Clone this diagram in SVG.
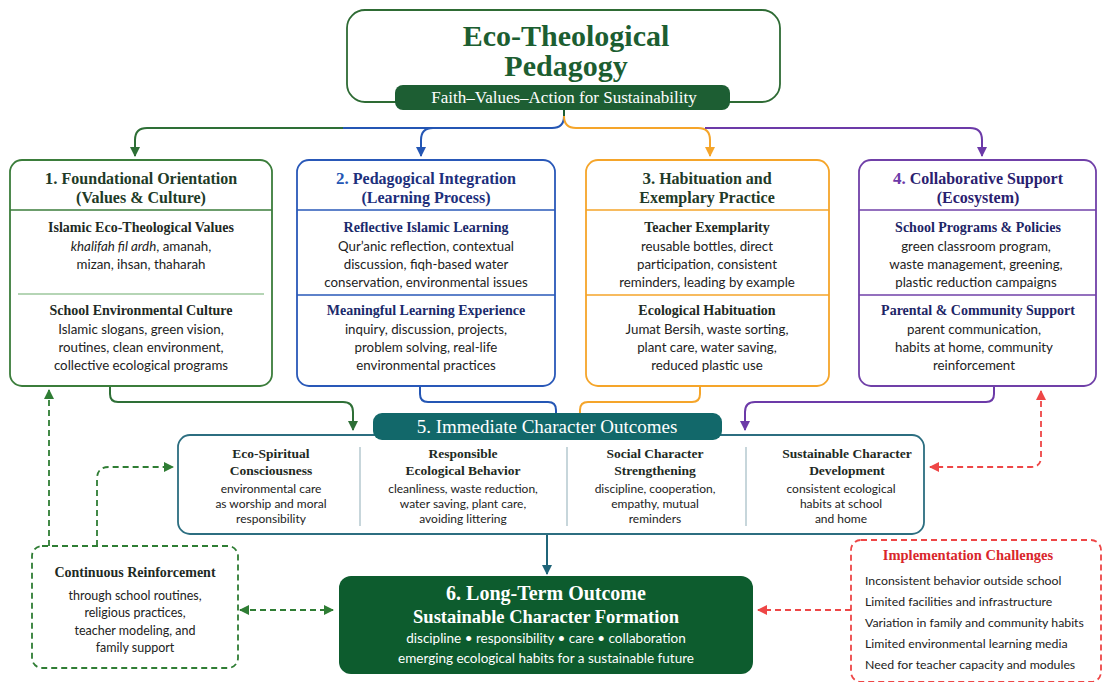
<svg xmlns="http://www.w3.org/2000/svg" width="1104" height="682" viewBox="0 0 1104 682">
<defs>
<style>
.serif{font-family:"Liberation Serif","DejaVu Serif",serif;}
.sans{font-family:Lato,"Open Sans","Liberation Sans",sans-serif;}
.hdr{font-family:"Liberation Serif","DejaVu Serif",serif;font-weight:700;font-size:16px;text-anchor:middle;}
.sec{font-family:"Liberation Serif","DejaVu Serif",serif;font-weight:700;font-size:14px;text-anchor:middle;}
.body{font-family:Lato,"Open Sans","Liberation Sans",sans-serif;font-size:13.3px;fill:#222;text-anchor:middle;}
.ctitle{font-family:"Liberation Serif","DejaVu Serif",serif;font-weight:700;font-size:13.5px;fill:#1e2a24;text-anchor:middle;}
.cbody{font-family:Lato,"Open Sans","Liberation Sans",sans-serif;font-size:12px;fill:#222;text-anchor:middle;}
.box{fill:#fff;stroke-width:1.8;}
.ln{fill:none;stroke-width:2;}
.dash{fill:none;stroke-width:1.8;stroke-dasharray:6 4;}
</style>
<marker id="aGreen" viewBox="0 0 10 10" refX="9" refY="5" markerWidth="10" markerHeight="10" markerUnits="userSpaceOnUse" orient="auto"><path d="M0,0 L10,5 L0,10 z" fill="#2e6f36"/></marker>
<marker id="aBlue" viewBox="0 0 10 10" refX="9" refY="5" markerWidth="10" markerHeight="10" markerUnits="userSpaceOnUse" orient="auto"><path d="M0,0 L10,5 L0,10 z" fill="#2456b4"/></marker>
<marker id="aOrange" viewBox="0 0 10 10" refX="9" refY="5" markerWidth="10" markerHeight="10" markerUnits="userSpaceOnUse" orient="auto"><path d="M0,0 L10,5 L0,10 z" fill="#f5a52a"/></marker>
<marker id="aPurple" viewBox="0 0 10 10" refX="9" refY="5" markerWidth="10" markerHeight="10" markerUnits="userSpaceOnUse" orient="auto"><path d="M0,0 L10,5 L0,10 z" fill="#6c3aa8"/></marker>
<marker id="aTeal" viewBox="0 0 10 10" refX="9" refY="5" markerWidth="10" markerHeight="10" markerUnits="userSpaceOnUse" orient="auto"><path d="M0,0 L10,5 L0,10 z" fill="#1f6478"/></marker>
<marker id="aRed" viewBox="0 0 10 10" refX="9" refY="5" markerWidth="10" markerHeight="10" markerUnits="userSpaceOnUse" orient="auto-start-reverse"><path d="M0,0 L10,5 L0,10 z" fill="#ee4646"/></marker>
<marker id="aGreenD" viewBox="0 0 10 10" refX="9" refY="5" markerWidth="10" markerHeight="10" markerUnits="userSpaceOnUse" orient="auto-start-reverse"><path d="M0,0 L10,5 L0,10 z" fill="#2f7d34"/></marker>
</defs>
<rect width="1104" height="682" fill="#fff"/>

<g id="connectors">
  <path class="ln" stroke="#1d5e33" d="M564,110 V118"/>
  <path class="ln" stroke="#2e6f36" d="M343,128 H147 Q135,128 135,140 V156" marker-end="url(#aGreen)"/>
  <path class="ln" stroke="#2456b4" d="M564,116 Q564,128 552,128 H343"/>
  <path class="ln" stroke="#2456b4" d="M433,128 Q421,128 421,140 V156" marker-end="url(#aBlue)"/>
  <path class="ln" stroke="#f5a52a" d="M564,116 Q564,128 576,128 H698 Q710,128 710,140 V156" marker-end="url(#aOrange)"/>
  <path class="ln" stroke="#6c3aa8" d="M705,128 H970 Q982,128 982,140 V156" marker-end="url(#aPurple)"/>
  <path class="ln" stroke="#2e6f36" d="M110,386 V394 Q110,402 118,402 H343 Q353,402 353,412 V430" marker-end="url(#aGreen)"/>
  <path class="ln" stroke="#2456b4" d="M420,386 V394 Q420,402 428,402 H548 Q556,402 556,410 V414"/>
  <path class="ln" stroke="#f5a52a" d="M700,386 V394 Q700,402 692,402 H588 Q580,402 580,410 V414"/>
  <path class="ln" stroke="#6c3aa8" d="M994,386 V394 Q994,402 986,402 H755 Q745,402 745,412 V430" marker-end="url(#aPurple)"/>
  <path class="ln" stroke="#1f6478" d="M547,534 V574" marker-end="url(#aTeal)"/>
  <path class="dash" stroke="#ee4646" d="M1041,391 V457 Q1041,467 1031,467 H930" marker-start="url(#aRed)" marker-end="url(#aRed)"/>
  <path class="dash" stroke="#ee4646" d="M851,610 H758" marker-end="url(#aRed)"/>
  <path class="dash" stroke="#2f7d34" d="M49,546 V390" marker-end="url(#aGreenD)"/>
  <path class="dash" stroke="#2f7d34" d="M97,546 V479 Q97,467 109,467 H173" marker-end="url(#aGreenD)"/>
  <path class="dash" stroke="#2f7d34" d="M240,610 H333" marker-start="url(#aGreenD)" marker-end="url(#aGreenD)"/>
</g>

<g id="title">
  <rect x="347" y="10" width="433" height="92" rx="18" fill="#fff" stroke="#2e6b34" stroke-width="1.8"/>
  <text class="serif" x="566" y="46" font-size="30" font-weight="700" fill="#1c5e31" text-anchor="middle">Eco-Theological</text>
  <text class="serif" x="566" y="76" font-size="30" font-weight="700" fill="#1c5e31" text-anchor="middle">Pedagogy</text>
  <rect x="395" y="85" width="335" height="25" rx="8" fill="#1d5e33"/>
  <text class="serif" x="564" y="103" font-size="17" fill="#fff" text-anchor="middle">Faith–Values–Action for Sustainability</text>
</g>

<g id="box1">
  <rect class="box" x="10" y="160" width="262" height="226" rx="12" stroke="#3b7d3b"/>
  <text class="hdr" x="141" y="184" fill="#1e3b27"><tspan font-size="17">1.</tspan> Foundational Orientation</text>
  <text class="hdr" x="141" y="203" fill="#1e3b27">(Values &amp; Culture)</text>
  <line x1="10" y1="210" x2="272" y2="210" stroke="#3b7d3b" stroke-width="1.5"/>
  <text class="sec" x="141" y="232" fill="#1e2a24">Islamic Eco-Theological Values</text>
  <text class="body" x="141" y="251"><tspan font-style="italic">khalifah fil ardh</tspan>, amanah,</text>
  <text class="body" x="141" y="269">mizan, ihsan, thaharah</text>
  <line x1="18" y1="294" x2="264" y2="294" stroke="#9cc79c" stroke-width="1.5"/>
  <text class="sec" x="141" y="315" fill="#1e2a24">School Environmental Culture</text>
  <text class="body" x="141" y="334">Islamic slogans, green vision,</text>
  <text class="body" x="141" y="352">routines, clean environment,</text>
  <text class="body" x="141" y="370">collective ecological programs</text>
</g>

<g id="box2">
  <rect class="box" x="297" y="160" width="258" height="226" rx="12" stroke="#2958b8"/>
  <text class="hdr" x="426" y="184" fill="#1d2f7c"><tspan fill="#2456b4" font-size="17">2.</tspan> Pedagogical Integration</text>
  <text class="hdr" x="426" y="203" fill="#1d2f7c">(Learning Process)</text>
  <line x1="297" y1="210" x2="555" y2="210" stroke="#2958b8" stroke-width="1.5"/>
  <text class="sec" x="426" y="232" fill="#1a2a6c">Reflective Islamic Learning</text>
  <text class="body" x="426" y="251">Qur’anic reflection, contextual</text>
  <text class="body" x="426" y="269">discussion, fiqh-based water</text>
  <text class="body" x="426" y="287">conservation, environmental issues</text>
  <line x1="297" y1="295" x2="555" y2="295" stroke="#2958b8" stroke-width="1.5"/>
  <text class="sec" x="426" y="315" fill="#1a2a6c">Meaningful Learning Experience</text>
  <text class="body" x="426" y="334">inquiry, discussion, projects,</text>
  <text class="body" x="426" y="352">problem solving, real-life</text>
  <text class="body" x="426" y="370">environmental practices</text>
</g>

<g id="box3">
  <rect class="box" x="586" y="160" width="243" height="226" rx="12" stroke="#f5a52a"/>
  <text class="hdr" x="707" y="184" fill="#1f3a28"><tspan font-size="17">3.</tspan> Habituation and</text>
  <text class="hdr" x="707" y="203" fill="#1f3a28">Exemplary Practice</text>
  <line x1="586" y1="210" x2="829" y2="210" stroke="#f5a52a" stroke-width="1.5"/>
  <text class="sec" x="707" y="232" fill="#1e2a24">Teacher Exemplarity</text>
  <text class="body" x="707" y="251">reusable bottles, direct</text>
  <text class="body" x="707" y="269">participation, consistent</text>
  <text class="body" x="707" y="287">reminders, leading by example</text>
  <line x1="586" y1="295" x2="829" y2="295" stroke="#f5a52a" stroke-width="1.5"/>
  <text class="sec" x="707" y="315" fill="#1e2a24">Ecological Habituation</text>
  <text class="body" x="707" y="334">Jumat Bersih, waste sorting,</text>
  <text class="body" x="707" y="352">plant care, water saving,</text>
  <text class="body" x="707" y="370">reduced plastic use</text>
</g>

<g id="box4">
  <rect class="box" x="859" y="160" width="237" height="226" rx="12" stroke="#7040a8"/>
  <text class="hdr" x="978" y="184" fill="#2a216f"><tspan fill="#6c3aa8" font-size="17">4.</tspan> Collaborative Support</text>
  <text class="hdr" x="978" y="203" fill="#2a216f">(Ecosystem)</text>
  <line x1="859" y1="210" x2="1096" y2="210" stroke="#7040a8" stroke-width="1.5"/>
  <text class="sec" x="978" y="232" fill="#1d2566">School Programs &amp; Policies</text>
  <text class="body" x="976" y="251">green classroom program,</text>
  <text class="body" x="976" y="269">waste management, greening,</text>
  <text class="body" x="976" y="287">plastic reduction campaigns</text>
  <line x1="859" y1="295" x2="1096" y2="295" stroke="#7040a8" stroke-width="1.5"/>
  <text class="sec" x="978" y="315" fill="#1d2566">Parental &amp; Community Support</text>
  <text class="body" x="974" y="334">parent communication,</text>
  <text class="body" x="974" y="352">habits at home, community</text>
  <text class="body" x="974" y="370">reinforcement</text>
</g>

<g id="box5">
  <rect class="box" x="178" y="435" width="746" height="99" rx="12" stroke="#2c6e80"/>
  <rect x="373" y="413" width="349" height="27" rx="9" fill="#12686a"/>
  <text class="serif" x="547" y="433" font-size="19" fill="#fff" text-anchor="middle">5.  Immediate Character Outcomes</text>
  <line x1="360" y1="447" x2="360" y2="526" stroke="#b5c9cf" stroke-width="1.5"/>
  <line x1="567" y1="447" x2="567" y2="526" stroke="#b5c9cf" stroke-width="1.5"/>
  <line x1="746" y1="447" x2="746" y2="526" stroke="#b5c9cf" stroke-width="1.5"/>
  <text class="ctitle" x="271" y="458">Eco-Spiritual</text>
  <text class="ctitle" x="271" y="475">Consciousness</text>
  <text class="cbody" x="271" y="493">environmental care</text>
  <text class="cbody" x="271" y="508">as worship and moral</text>
  <text class="cbody" x="271" y="523">responsibility</text>
  <text class="ctitle" x="463" y="458">Responsible</text>
  <text class="ctitle" x="463" y="475">Ecological Behavior</text>
  <text class="cbody" x="463" y="493">cleanliness, waste reduction,</text>
  <text class="cbody" x="463" y="508">water saving, plant care,</text>
  <text class="cbody" x="463" y="523">avoiding littering</text>
  <text class="ctitle" x="655" y="458">Social Character</text>
  <text class="ctitle" x="655" y="475">Strengthening</text>
  <text class="cbody" x="655" y="493">discipline, cooperation,</text>
  <text class="cbody" x="655" y="508">empathy, mutual</text>
  <text class="cbody" x="655" y="523">reminders</text>
  <text class="ctitle" x="847" y="458">Sustainable Character</text>
  <text class="ctitle" x="847" y="475">Development</text>
  <text class="cbody" x="841" y="493">consistent ecological</text>
  <text class="cbody" x="841" y="508">habits at school</text>
  <text class="cbody" x="841" y="523">and home</text>
</g>

<g id="box6">
  <rect x="339" y="576" width="414" height="98" rx="12" fill="#0d5c2e"/>
  <text class="serif" x="546" y="600" font-size="20" font-weight="700" fill="#fff" text-anchor="middle">6.  Long-Term Outcome</text>
  <text class="serif" x="546" y="623" font-size="18.5" font-weight="700" fill="#fff" text-anchor="middle">Sustainable Character Formation</text>
  <text class="sans" x="546" y="643" font-size="13.5" fill="#fff" text-anchor="middle">discipline • responsibility • care • collaboration</text>
  <text class="sans" x="546" y="663" font-size="13.5" fill="#fff" text-anchor="middle">emerging ecological habits for a sustainable future</text>
</g>

<g id="reinforcement">
  <rect x="32" y="546" width="206" height="122" rx="10" fill="#fff" stroke="#2f7d34" stroke-width="1.8" stroke-dasharray="6 4"/>
  <text class="serif" x="135" y="577" font-size="14" font-weight="700" fill="#1e2a24" text-anchor="middle">Continuous Reinforcement</text>
  <text class="sans" x="135" y="600" font-size="12.5" fill="#222" text-anchor="middle">through school routines,</text>
  <text class="sans" x="135" y="617" font-size="12.5" fill="#222" text-anchor="middle">religious practices,</text>
  <text class="sans" x="135" y="635" font-size="12.5" fill="#222" text-anchor="middle">teacher modeling, and</text>
  <text class="sans" x="135" y="652" font-size="12.5" fill="#222" text-anchor="middle">family support</text>
</g>

<g id="challenges">
  <rect x="851" y="540" width="250" height="142" rx="10" fill="#fff" stroke="#ee4646" stroke-width="1.8" stroke-dasharray="6 4"/>
  <text class="serif" x="968" y="560" font-size="14.5" font-weight="700" fill="#d9262b" text-anchor="middle">Implementation Challenges</text>
  <text class="sans" x="865" y="585" font-size="12.3" fill="#222">Inconsistent behavior outside school</text>
  <text class="sans" x="865" y="606" font-size="12.3" fill="#222">Limited facilities and infrastructure</text>
  <text class="sans" x="865" y="627" font-size="12.3" fill="#222">Variation in family and community habits</text>
  <text class="sans" x="865" y="648" font-size="12.3" fill="#222">Limited environmental learning media</text>
  <text class="sans" x="865" y="669" font-size="12.3" fill="#222">Need for teacher capacity and modules</text>
</g>
</svg>
